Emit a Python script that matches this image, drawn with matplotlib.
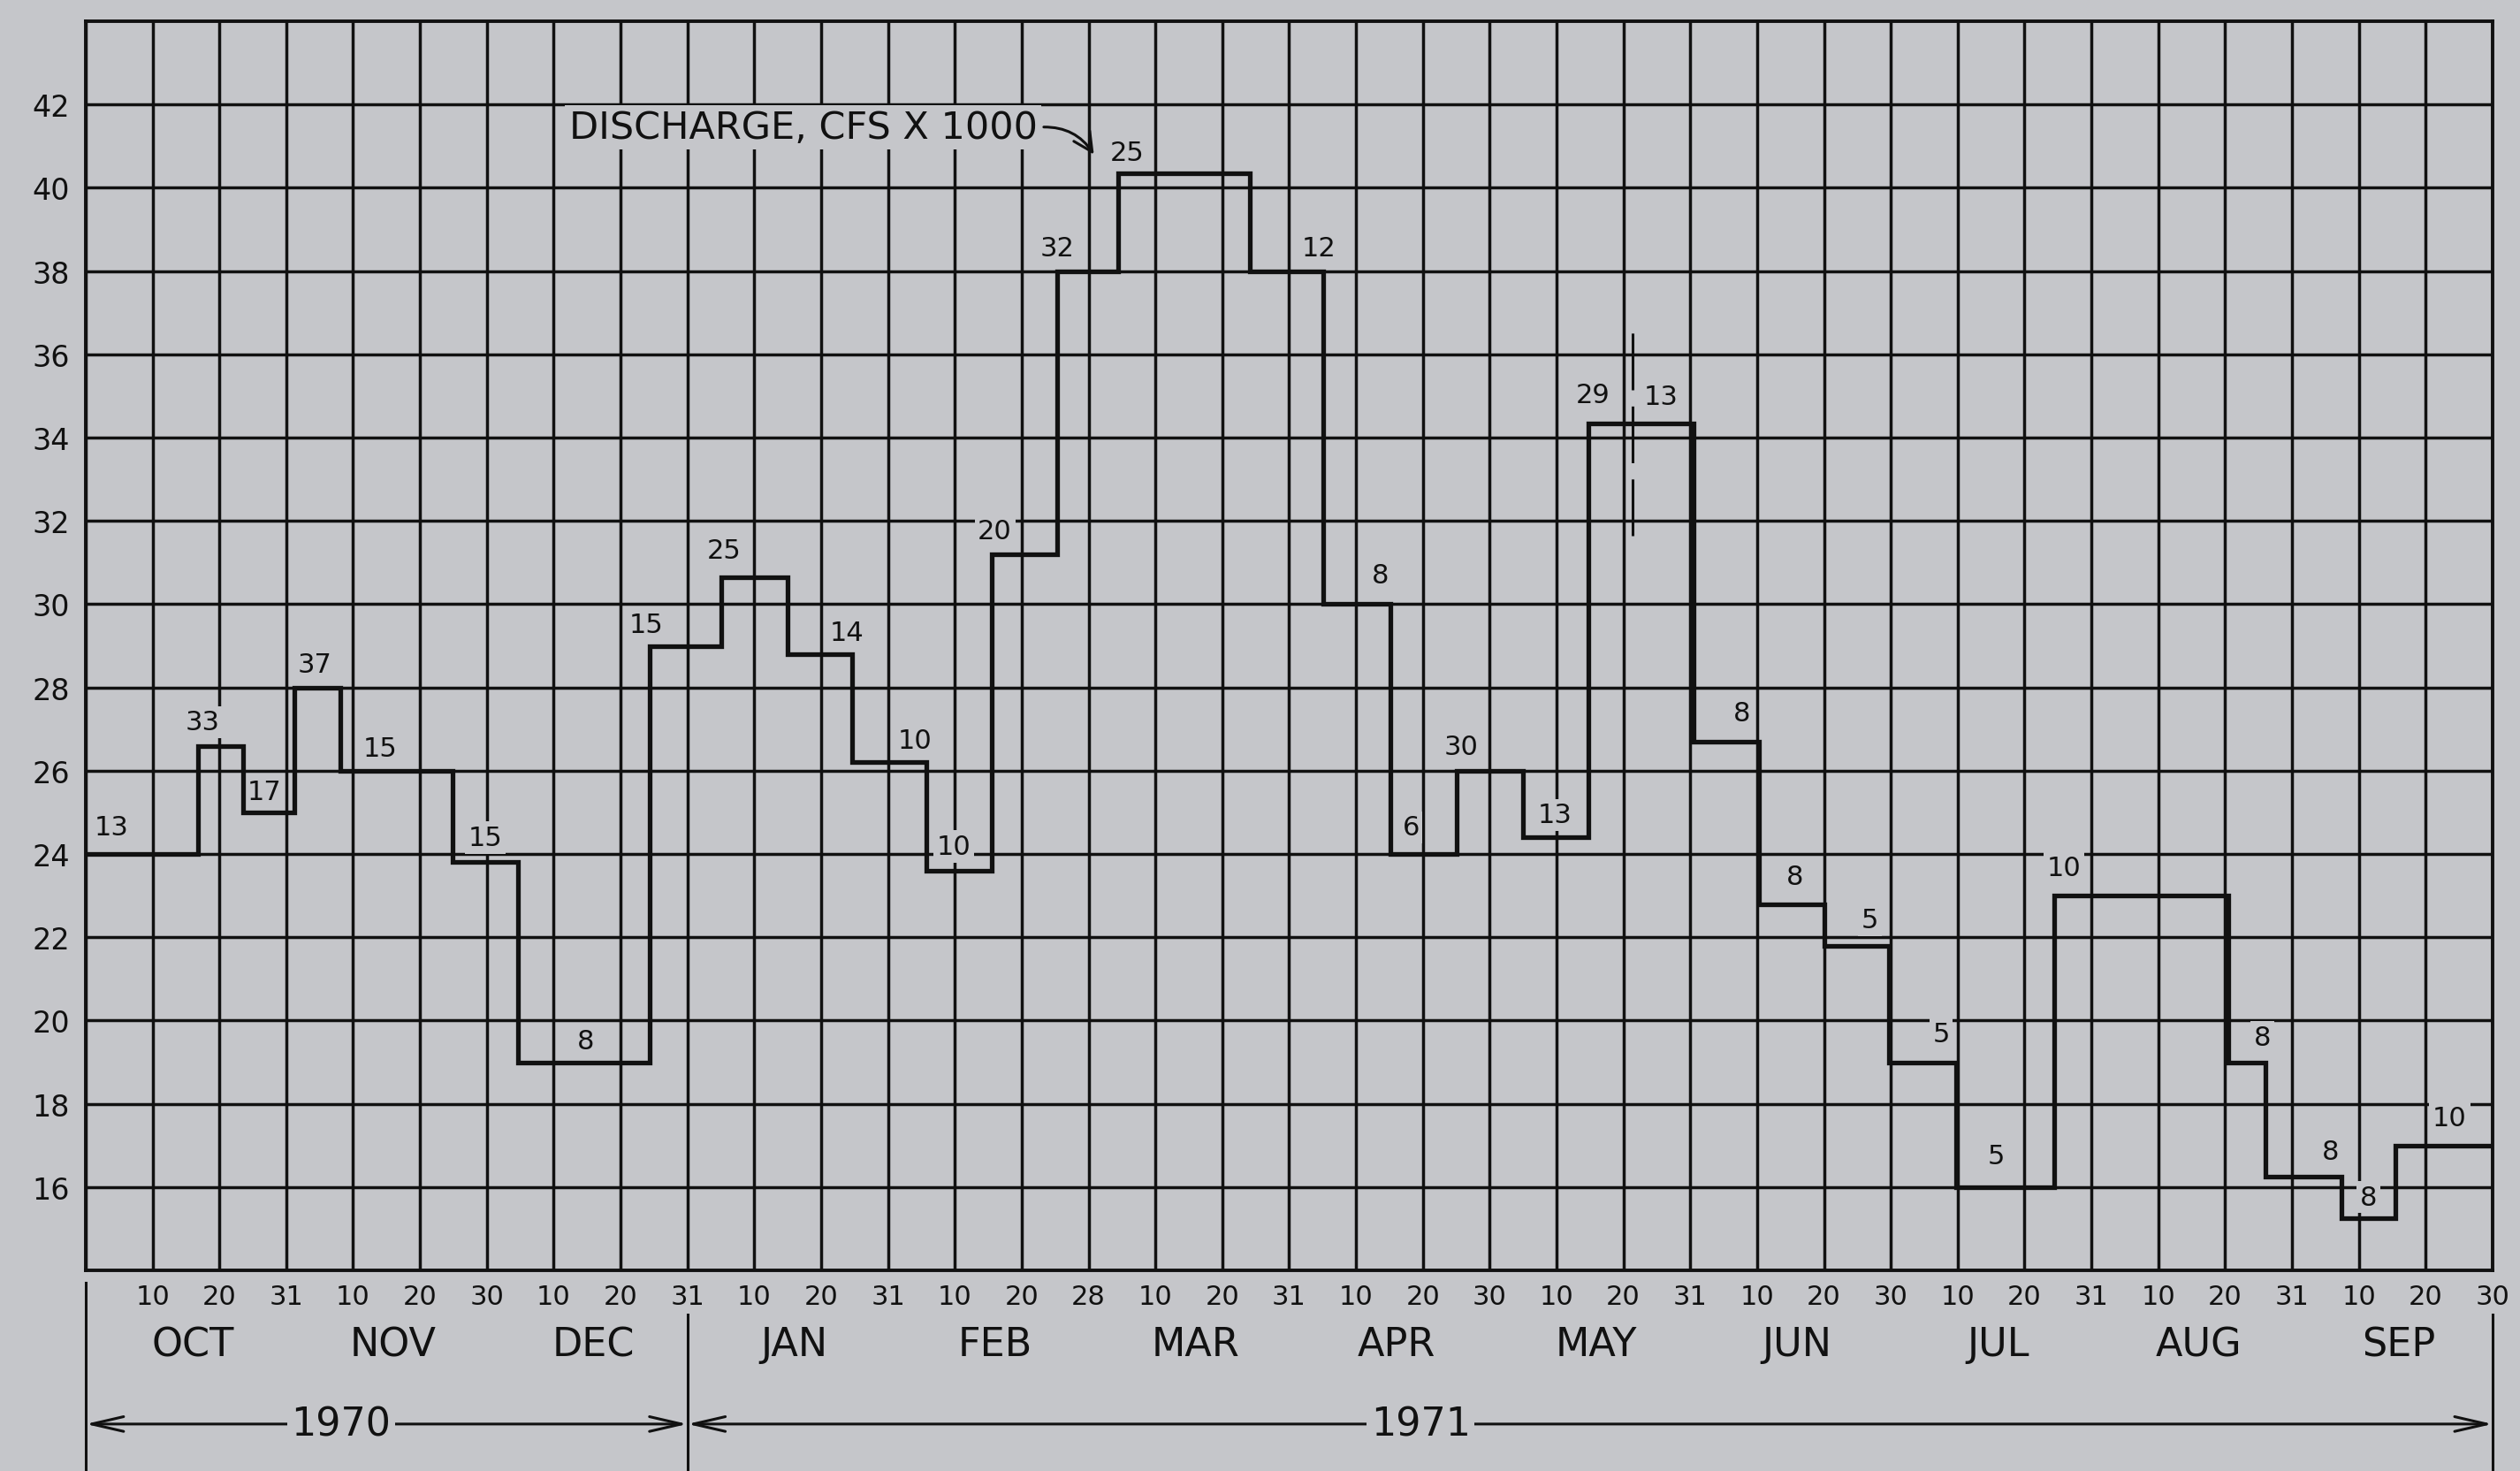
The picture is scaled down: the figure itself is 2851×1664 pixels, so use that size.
import matplotlib.pyplot as plt
import matplotlib.transforms as mtransforms
from matplotlib.patches import FancyArrowPatch

paper = '#c5c6ca'
ink = '#111111'

# step boundaries in 10-day columns counted from 1 Oct 1970 (3 columns per month)
edges = [0, 1.68, 2.36, 3.12, 3.81, 5.49, 6.47, 8.44, 9.5, 10.5, 11.46, 12.57,
         13.55, 14.53, 15.44, 17.41, 18.51, 19.52, 20.5, 21.5, 22.47, 23.14,
         24.05, 25.03, 26.01, 26.97, 27.97, 29.45, 32.05, 32.6, 33.74, 34.55, 36]
# discharge, cfs x 1000
discharge = [24.0, 26.6, 25.0, 28.0, 26.0, 23.8, 19.0, 29.0, 30.65, 28.8, 26.2,
             23.6, 31.2, 38.0, 40.35, 38.0, 30.0, 24.0, 26.0, 24.4, 34.35, 34.35,
             26.7, 22.8, 21.8, 19.0, 16.0, 23.0, 19.0, 16.25, 15.25, 17.0]
counts = ['13', '33', '17', '37', '15', '15', '8', '15', '25', '14', '10', '10',
          '20', '32', '25', '12', '8', '6', '30', '13', '29', '13', '8', '8',
          '5', '5', '5', '10', '8', '8', '8', '10']

months = ['OCT', 'NOV', 'DEC', 'JAN', 'FEB', 'MAR', 'APR', 'MAY', 'JUN', 'JUL',
          'AUG', 'SEP']
day_marks = ['', '10', '20', '31', '10', '20', '30', '10', '20', '31',
             '10', '20', '31', '10', '20', '28', '10', '20', '31',
             '10', '20', '30', '10', '20', '31', '10', '20', '30',
             '10', '20', '31', '10', '20', '31', '10', '20', '30']
years = ['1970', '1971']
year_spans = [(0, 9), (9, 36)]
year_text_x = [3.82, 19.97]

# where each count sits, relative to the left end and level of its step
count_offsets = [(0.39, 0.65), (0.07, 0.57), (0.31, 0.5), (0.30, 0.56),
                 (0.60, 0.54), (0.49, 0.59), (1.01, 0.52), (-0.05, 0.52),
                 (0.05, 0.65), (0.88, 0.51), (0.94, 0.53), (0.41, 0.58),
                 (0.05, 0.57), (0.0, 0.56), (0.14, 0.49), (1.04, 0.56),
                 (0.85, 0.7), (0.30, 0.64), (0.07, 0.57), (0.48, 0.54),
                 (0.08, 0.67), (0.42, 0.63), (0.72, 0.69), (0.54, 0.65),
                 (0.68, 0.62), (0.78, 0.67), (0.60, 0.75), (0.14, 0.67),
                 (0.51, 0.6), (0.98, 0.6), (0.40, 0.51), (0.81, 0.67)]

plt.rcParams['font.family'] = 'DejaVu Sans'

fig = plt.figure(figsize=(28.51, 16.65), dpi=100, facecolor=paper)
ax = fig.add_axes([0.034, 0.1363, 0.9551, 0.8487])
ax.set_facecolor(paper)
ax.set_xlim(0, 36)
ax.set_ylim(14, 44)

ax.set_xticks(range(37))
ax.set_xticklabels(day_marks, fontsize=22, color=ink)
ax.set_yticks(range(16, 43, 2))
ax.set_yticklabels([str(v) for v in range(16, 43, 2)], fontsize=24, color=ink)
ax.tick_params(axis='x', length=0, pad=11)
ax.tick_params(axis='y', length=0, pad=13)
ax.set_axisbelow(True)
ax.grid(True, color=ink, lw=2.5)
for s in ax.spines.values():
    s.set_linewidth(2.8)
    s.set_color(ink)

# the discharge hydrograph
ax.stairs(discharge, edges, baseline=None, color=ink, lw=3.8, zorder=3)

for i, txt in enumerate(counts):
    dx, dy = count_offsets[i]
    ax.text(edges[i] + dx, discharge[i] + dy, txt, ha='center', va='center',
            fontsize=22, color=ink, zorder=2.5,
            bbox=dict(boxstyle='square,pad=0.12', fc=paper, ec='none'))

# dashed break inside the May step
ax.plot([edges[21], edges[21]], [31.65, 36.65], color=ink, lw=2.2,
        ls=(0, (21, 6)), zorder=3)

ax.annotate('DISCHARGE, CFS X 1000', xy=(15.08, 40.8), xytext=(7.23, 41.45),
            ha='left', va='center', fontsize=31, color=ink, zorder=2.5,
            bbox=dict(boxstyle='square,pad=0.1', fc=paper, ec='none'),
            arrowprops=dict(arrowstyle='->,head_length=0.5,head_width=0.25',
                            connectionstyle='arc3,rad=-0.3', color=ink,
                            lw=2.2, shrinkA=2, shrinkB=0, relpos=(1, 0.5)))

# month and year rows under the chart
trans = mtransforms.blended_transform_factory(ax.transData, ax.transAxes)
for i, m in enumerate(months):
    ax.text(3 * i + 1.6, -0.0594, m, transform=trans, ha='center',
            va='center', fontsize=32, color=ink)

ax.plot([0, 0], [-0.0099, -0.2], transform=trans, color=ink, lw=2.2,
        clip_on=False)
for x in (9, 36):
    ax.plot([x, x], [-0.0354, -0.2], transform=trans, color=ink, lw=2.2,
            clip_on=False)

for (x0, x1), yr, tx in zip(year_spans, years, year_text_x):
    arr = FancyArrowPatch((x0, -0.123), (x1, -0.123), transform=trans,
                          arrowstyle='<->,head_length=1.3,head_width=0.3',
                          mutation_scale=20, lw=2.2, color=ink,
                          shrinkA=0, shrinkB=0, clip_on=False)
    ax.add_patch(arr)
    ax.text(tx, -0.123, yr, transform=trans, ha='center', va='center',
            fontsize=32, color=ink,
            bbox=dict(boxstyle='square,pad=0.1', fc=paper, ec='none'))

fig.savefig('out.png', dpi=100, facecolor=paper)
